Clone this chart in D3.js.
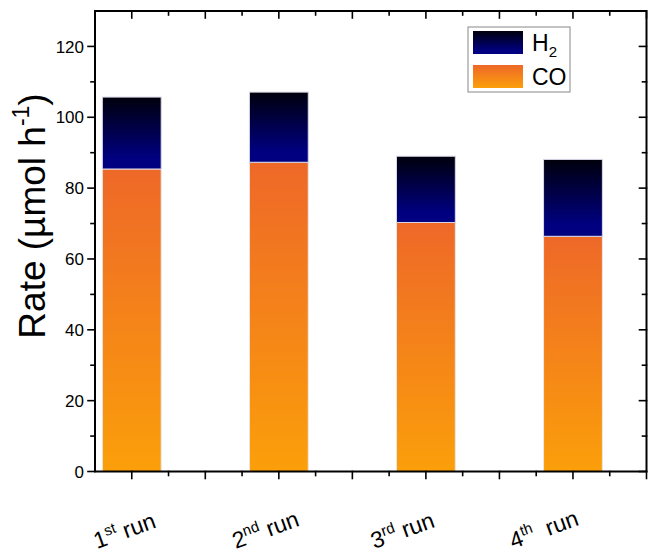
<!DOCTYPE html>
<html>
<head>
<meta charset="utf-8">
<script src="https://cdn.jsdelivr.net/npm/d3@7"></script>
<style>
    body { margin: 0; background: #fff; }
    svg { display: block; font-family: Arial, "Liberation Sans", sans-serif; }
</style>
</head>
<body>
<div id="chart"></div>
<script>
// data
const runNumbers = ["1", "2", "3", "4"];
const runSuffixes = ["st", "nd", "rd", "th"];
const runPositions = [1, 2, 3, 4];
const coRate = [85.4, 87.3, 70.3, 66.4];
const h2Rate = [20.3, 19.8, 18.7, 21.7];
const yTicks = [0, 20, 40, 60, 80, 100, 120];
const yMinorTicks = [10, 30, 50, 70, 90, 110];
const xTicks = [1, 1.5, 2, 2.5, 3, 3.5, 4, 4.5];
const xMinorTicks = [1.25, 1.75, 2.25, 2.75, 3.25, 3.75, 4.25];

class StackedRunChart {
    constructor(_config = {}) {
        this.config = {
            parentElement: _config.parentElement,
            containerWidth: 648,
            containerHeight: 555,
            margin: { top: 11, right: 1.5, bottom: 83.5, left: 95 },
            barWidth: 0.4,
            majorTick: 7,
            minorTick: 4
        };
        this.initVis();
    }

    initVis() {
        let vis = this;
        let { parentElement, containerWidth, containerHeight, margin } = vis.config;

        vis.svg = d3.select(parentElement)
            .append("svg")
            .attr("width", containerWidth)
            .attr("height", containerHeight);

        vis.left = margin.left;
        vis.right = containerWidth - margin.right;
        vis.top = margin.top;
        vis.bottom = containerHeight - margin.bottom;

        // scales

        vis.x = d3.scaleLinear()
            .domain([0.75, 4.5])
            .range([vis.left, vis.right]);

        vis.y = d3.scaleLinear()
            .domain([0, 130])
            .range([vis.bottom, vis.top]);

        // gradients (per bar)

        let defs = vis.svg.append("defs");
        let coGrad = defs.append("linearGradient")
            .attr("id", "grad-co")
            .attr("x1", 0).attr("y1", 0).attr("x2", 0).attr("y2", 1);
        coGrad.append("stop").attr("offset", "0%").attr("stop-color", "#ee6828");
        coGrad.append("stop").attr("offset", "100%").attr("stop-color", "#fb9f0a");

        let h2Grad = defs.append("linearGradient")
            .attr("id", "grad-h2")
            .attr("x1", 0).attr("y1", 0).attr("x2", 0).attr("y2", 1);
        h2Grad.append("stop").attr("offset", "0%").attr("stop-color", "#00000c");
        h2Grad.append("stop").attr("offset", "85%").attr("stop-color", "#000080");
        h2Grad.append("stop").attr("offset", "100%").attr("stop-color", "#000080");

        vis.renderVis();
    }

    drawTicks(g, values, len, horizontal, base, dir) {
        let vis = this;
        g.append("g").selectAll("line")
            .data(values)
            .join("line")
            .attr("x1", d => horizontal ? vis.x(d) : base)
            .attr("x2", d => horizontal ? vis.x(d) : base + dir * len)
            .attr("y1", d => horizontal ? base : vis.y(d))
            .attr("y2", d => horizontal ? base + dir * len : vis.y(d))
            .attr("stroke-width", 1.6);
    }

    renderVis() {
        let vis = this;
        let { barWidth, majorTick, minorTick } = vis.config;
        let bw = vis.x(1 + barWidth) - vis.x(1);

        let rows = runPositions.map((p, i) => ({ pos: p, co: coRate[i], h2: h2Rate[i] }));

        // bars

        let barG = vis.svg.append("g");

        barG.selectAll(".bar-co")
            .data(rows)
            .join("rect")
            .attr("class", "bar-co")
            .attr("x", d => vis.x(d.pos) - bw / 2)
            .attr("width", bw)
            .attr("y", d => vis.y(d.co))
            .attr("height", d => vis.y(0) - vis.y(d.co))
            .attr("fill", "url(#grad-co)")
            .attr("stroke", "#e8e8e8")
            .attr("stroke-width", 1);

        barG.selectAll(".bar-h2")
            .data(rows)
            .join("rect")
            .attr("class", "bar-h2")
            .attr("x", d => vis.x(d.pos) - bw / 2)
            .attr("width", bw)
            .attr("y", d => vis.y(d.co + d.h2))
            .attr("height", d => vis.y(d.co) - vis.y(d.co + d.h2))
            .attr("fill", "url(#grad-h2)")
            .attr("stroke", "#d8d8e8")
            .attr("stroke-width", 1);

        // frame axes: bottom/left outward, top/right inward

        let axisG = vis.svg.append("g")
            .attr("stroke", "#000")
            .attr("stroke-linecap", "square");

        vis.drawTicks(axisG, xTicks, majorTick, true, vis.bottom, 1);
        vis.drawTicks(axisG, xMinorTicks, minorTick, true, vis.bottom, 1);
        vis.drawTicks(axisG, xTicks, majorTick, true, vis.top, 1);
        vis.drawTicks(axisG, xMinorTicks, minorTick, true, vis.top, 1);
        vis.drawTicks(axisG, yTicks, majorTick, false, vis.left, -1);
        vis.drawTicks(axisG, yMinorTicks, minorTick, false, vis.left, -1);
        vis.drawTicks(axisG, yTicks, majorTick, false, vis.right, -1);
        vis.drawTicks(axisG, yMinorTicks, minorTick, false, vis.right, -1);

        axisG.append("rect")
            .attr("x", vis.left).attr("y", vis.top)
            .attr("width", vis.right - vis.left)
            .attr("height", vis.bottom - vis.top)
            .attr("fill", "none")
            .attr("stroke-width", 2);

        // y tick labels
        vis.svg.append("g").selectAll("text")
            .data(yTicks)
            .join("text")
            .attr("x", vis.left - 11)
            .attr("y", d => vis.y(d))
            .attr("dy", "0.36em")
            .attr("text-anchor", "end")
            .attr("font-size", 17)
            .attr("fill", "#000")
            .text(d => d);

        // y title
        let yTitle = vis.svg.append("text")
            .attr("text-anchor", "middle")
            .attr("font-size", 37)
            .attr("fill", "#000")
            .attr("transform", `translate(45,216) rotate(-90)`);
        yTitle.append("tspan").text("Rate (µmol h");
        yTitle.append("tspan").attr("font-size", 23).attr("dy", -16).text("-1");
        yTitle.append("tspan").attr("dy", 16).text(")");

        // x labels (rotated, placed under the runs)
        let labelX = d3.scalePoint()
            .domain(runNumbers)
            .range([97, 513]);

        let labels = vis.svg.append("g").selectAll("text")
            .data(runNumbers)
            .join("text")
            .attr("font-size", 23)
            .attr("fill", "#000")
            .attr("transform", d => `translate(${labelX(d)},549) rotate(-20)`);
        labels.append("tspan").text(d => d);
        labels.append("tspan")
            .attr("font-size", 15)
            .attr("dy", -9)
            .text((d, i) => runSuffixes[i]);
        labels.append("tspan")
            .attr("dy", 9)
            .text((d, i) => (i === 3 ? "\u00a0 run" : " run"));

        // legend
        let legend = vis.svg.append("g").attr("transform", "translate(468,27)");
        legend.append("rect")
            .attr("width", 102).attr("height", 65)
            .attr("fill", "#fff")
            .attr("stroke", "#888")
            .attr("stroke-width", 1);
        let items = [
            { fill: "url(#grad-h2)", y: 4, name: "H", sub: "2" },
            { fill: "url(#grad-co)", y: 38, name: "CO", sub: "" }
        ];
        items.forEach(it => {
            legend.append("rect")
                .attr("x", 5).attr("y", it.y)
                .attr("width", 50).attr("height", 23)
                .attr("fill", it.fill);
            let t = legend.append("text")
                .attr("x", 64).attr("y", it.y + 20)
                .attr("font-size", 23)
                .attr("fill", "#000")
                .text(it.name);
            if (it.sub) {
                t.append("tspan").attr("font-size", 15).attr("dy", 6).text(it.sub);
            }
        });
    }
}

new StackedRunChart({ parentElement: "#chart" });
</script>
</body>
</html>
